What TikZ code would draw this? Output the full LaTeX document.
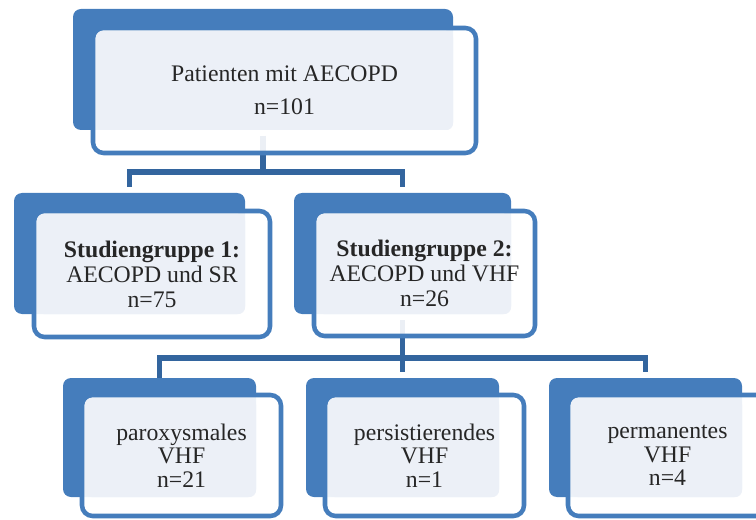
\documentclass[tikz,border=0pt]{standalone}
\usepackage{fontspec}
\setmainfont{Liberation Serif}
\usepackage{tikz}
\usetikzlibrary{fit,calc}
\definecolor{boxblue}{HTML}{457DBC}
\definecolor{boxlight}{HTML}{ECF0F7}
\definecolor{linkblue}{HTML}{33659E}

\begin{document}
\begin{tikzpicture}[x=0.75pt,y=-0.75pt,
   backbox/.style={fill=boxblue, rounded corners=6pt, inner sep=0pt},
   framebox/.style={draw=boxblue, line width=3.4pt, fill=white, fill opacity=0.9, rounded corners=8pt, inner sep=0pt},
   litebox/.style={fill=boxlight, rounded corners=5pt, inner sep=0pt},
   boxtext/.style={align=center, text=black!85, inner sep=0pt},
   linkline/.style={draw=linkblue, line width=4.1pt}]
   \clip (0,0) rectangle (756,520);
   % hidden helpers for the connectors
   \coordinate (j1) at (263,172);
   \coordinate (j2) at (402.5,358);
   \path node (topback) [backbox, fit={(73,9) (453,130)}] {};
   \path node (g1back) [backbox, fit={(14,193) (245,314)}] {}
         node (g2back) [backbox, fit={(294,193) (511,314)}] {};
   \path node (r1back) [backbox, fit={(63,378) (256,497)}] {}
         node (r2back) [backbox, fit={(306,378) (499,497)}] {}
         node (r3back) [backbox, fit={(549,378) (742,497)}] {};
   % connectors
   \draw[linkline, shorten <=4pt] (topback.south) -- (j1);
   \draw[linkline, shorten <=-2pt, shorten >=4.5pt] (g1back.north |- j1) -- (g2back.north |- j1) -- (g2back.north);
   \draw[linkline, shorten >=4.5pt] (g1back.north |- j1) -- (g1back.north);
   \draw[linkline, shorten <=4.5pt] (g2back.south) -- (j2);
   \draw[linkline, shorten >=4.5pt] (r1back.north) |- (j2) -| (r3back.north);
   \draw[linkline, shorten >=4.5pt] (j2) -- (r2back.north);
   % boxes
   \path node (topframe) [framebox, fit={(93,28) (476,153)}] {}
         node (toplite) [litebox, fit={(96,31) (453,130)}] {};
   \path node (g1frame) [framebox, fit={(34,211) (270,337)}] {}
         node (g1lite) [litebox, fit={(37,214) (245,314)}] {}
         node (g2frame) [framebox, fit={(314,211) (535,336)}] {}
         node (g2lite) [litebox, fit={(317,214) (511,314)}] {};
   \path node (r1frame) [framebox, fit={(82,395) (281,516)}] {}
         node (r1lite) [litebox, fit={(85,398) (256,497)}] {}
         node (r2frame) [framebox, fit={(325,395) (524,516)}] {}
         node (r2lite) [litebox, fit={(328,398) (499,497)}] {}
         node (r3frame) [framebox, fit={(568,395) (767,516)}] {}
         node (r3lite) [litebox, fit={(571,398) (742,497)}] {};
   % texts
   \node (toptext) at (topframe) [boxtext, font=\fontsize{17.8}{25}\selectfont]
      {Patienten mit AECOPD\\n=101};
   \node (g1text) at (g1frame) [boxtext, font=\fontsize{17.8}{18.75}\selectfont]
      {\textbf{Studiengruppe 1:}\\AECOPD und SR\\n=75};
   \node (g2text) at (g2frame) [boxtext, font=\fontsize{17.8}{18.75}\selectfont]
      {\textbf{Studiengruppe 2:}\\AECOPD und VHF\\n=26};
   \node (r1text) at (r1frame) [boxtext, font=\fontsize{17.8}{17.6}\selectfont]
      {paroxysmales\\VHF\\n=21};
   \node (r2text) at (r2frame) [boxtext, font=\fontsize{17.8}{17.6}\selectfont]
      {persistierendes\\VHF\\n=1};
   \node (r3text) at (r3frame) [boxtext, font=\fontsize{17.8}{17.6}\selectfont]
      {permanentes\\VHF\\n=4};
\end{tikzpicture}
\end{document}
